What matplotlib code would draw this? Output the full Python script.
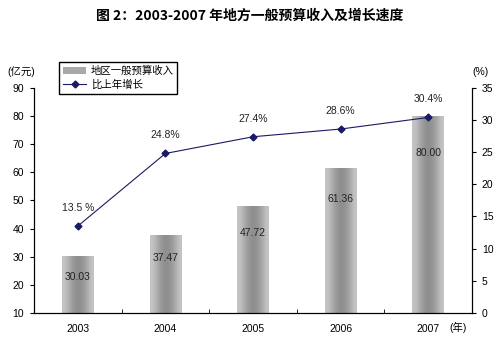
import numpy as np
import matplotlib
matplotlib.use("Agg")
import matplotlib.pyplot as plt
from matplotlib.patches import Patch
from matplotlib.lines import Line2D

plt.rcParams['font.family'] = ['Liberation Sans', 'Noto Sans CJK SC']

years = ["2003", "2004", "2005", "2006", "2007"]
revenue = [30.03, 37.47, 47.72, 61.36, 80.00]
growth = [13.5, 24.8, 27.4, 28.6, 30.4]
growth_labels = ["13.5 %", "24.8%", "27.4%", "28.6%", "30.4%"]

navy = "#1a1a66"

fig = plt.figure(figsize=(4.99, 3.42), dpi=100)
ax = fig.add_axes([0.068, 0.085, 0.878, 0.658])
ax2 = ax.twinx()

x = np.arange(len(years))
w = 0.36
# cylinder-like grey shading across each bar
shade = np.array([[0.77, 0.72, 0.64, 0.58, 0.55, 0.57, 0.62, 0.70, 0.77]])
for i, v in enumerate(revenue):
    ax.imshow(shade, cmap="gray", vmin=0, vmax=1, aspect="auto",
              extent=[x[i] - w / 2, x[i] + w / 2, 10, v],
              interpolation="bicubic", zorder=2)
    ax.text(x[i], 0.8825 * v - 3.7, f"{v:.2f}", ha="center", va="center",
            fontsize=7.5, color="#222222", zorder=3)

ax.set_xlim(-0.5, len(years) - 0.5)
ax.set_ylim(10, 90)
ax.set_yticks(range(10, 91, 10))
ax.set_xticks(x)
ax.set_xticklabels(years)
ax.set_xticks(np.arange(0.5, len(years) - 1, 1), minor=True)
ax.tick_params(axis="x", which="major", length=0, pad=8, labelsize=7.5)
ax.tick_params(axis="x", which="minor", length=3, direction="in")
ax.tick_params(axis="y", length=3, labelsize=7.5, pad=4)

ax2.plot(x, growth, color=navy, linewidth=0.8, marker="D", markersize=3.5,
         zorder=4)
for i, g in enumerate(growth):
    ax2.annotate(growth_labels[i], (x[i], g), xytext=(0, 13),
                 textcoords="offset points", ha="center", va="center",
                 fontsize=7.5, color="#222222")
ax2.set_ylim(0, 35)
ax2.set_yticks(range(0, 36, 5))
ax2.tick_params(axis="y", length=3, labelsize=7.5, pad=4)

for a in (ax, ax2):
    a.spines["top"].set_visible(False)
    for s in ("left", "right", "bottom"):
        a.spines[s].set_linewidth(0.8)

fig.text(0.5, 0.953, "图 2：2003-2007 年地方一般预算收入及增长速度",
         ha="center", va="center", fontsize=10, fontweight="bold",
         family=["Noto Sans CJK SC"])
fig.text(0.042, 0.79, "(亿元)", ha="center", va="center", fontsize=7.5)
fig.text(0.962, 0.79, "(%)", ha="center", va="center", fontsize=7.5)
fig.text(0.918, 0.042, "(年)", ha="center", va="center", fontsize=7.5)

handles = [Patch(facecolor="#a8a8a8", edgecolor="none"),
           Line2D([], [], color=navy, linewidth=0.8, marker="D", markersize=3.5)]
fig.legend(handles, ["地区一般预算收入", "比上年增长"],
           loc="upper left", bbox_to_anchor=(0.118, 0.818), borderaxespad=0,
           fontsize=7.5, frameon=True, fancybox=False, edgecolor="black",
           framealpha=1, borderpad=0.35, labelspacing=0.35, handlelength=2.3,
           handletextpad=0.4)

fig.savefig("out.png", dpi=100)
